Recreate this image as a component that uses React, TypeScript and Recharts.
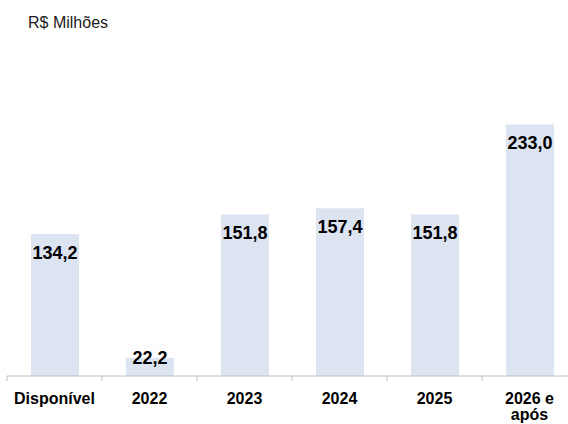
import React from "react";
import { BarChart, Bar, XAxis, YAxis, LabelList } from "recharts";

const categories = ["Disponível", "2022", "2023", "2024", "2025", "2026 e\napós"];
const values = [134.2, 22.2, 151.8, 157.4, 151.8, 233.0];
const title = "R$ Milhões";

const data = categories.map((c, i) => ({ name: c, value: values[i] }));

const FONT = "'Liberation Sans', Arial, sans-serif";

const CategoryTick = (props: any) => {
  const { x, y, payload } = props;
  const off = payload && typeof payload.offset === "number" ? payload.offset : 47.5;
  const lines = String(payload.value).split("\n");
  return (
    <g>
      <line x1={x - off} x2={x - off} y1={y - 8} y2={y - 3} stroke="#bfbfbf" strokeWidth={1} />
      <text
        x={x}
        y={y + 20}
        textAnchor="middle"
        fontFamily={FONT}
        fontWeight="bold"
        fontSize={16}
        fill="#000"
      >
        {lines.map((l, i) => (
          <tspan key={i} x={x} dy={i === 0 ? 0 : 16}>
            {l}
          </tspan>
        ))}
      </text>
    </g>
  );
};

const ValueLabel = (props: any) => {
  const { x, y, width, height, value } = props;
  const ty = height < 30 ? y + 6 : y + 25;
  return (
    <text
      x={x + width / 2}
      y={ty}
      textAnchor="middle"
      fontFamily={FONT}
      fontWeight="bold"
      fontSize={18}
      fill="#000"
    >
      {Number(value).toFixed(1).replace(".", ",")}
    </text>
  );
};

export default function App() {
  return (
    <div
      style={{
        position: "absolute",
        left: 0,
        top: 0,
        width: 568,
        height: 424,
        overflow: "hidden",
        background: "#fff",
      }}
    >
      <div
        style={{
          position: "absolute",
          left: 28,
          top: 14.5,
          fontFamily: FONT,
          fontSize: 16,
          lineHeight: "16px",
          color: "#1a1a1a",
          whiteSpace: "nowrap",
        }}
      >
        {title}
      </div>
      <div style={{ position: "absolute", left: 0, top: 0 }}>
        <BarChart
          width={590}
          height={424}
          data={data}
          margin={{ top: 100, left: 7, right: 13, bottom: 0 }}
          barCategoryGap={0}
        >
          <XAxis
            dataKey="name"
            interval={0}
            height={48}
            tickLine={false}
            axisLine={{ stroke: "#bfbfbf", strokeWidth: 1 }}
            tick={<CategoryTick />}
          />
          <YAxis hide width={0} type="number" domain={[6, 255]} allowDataOverflow />
          <Bar dataKey="value" fill="#dce3f1" barSize={48} isAnimationActive={false}>
            <LabelList dataKey="value" content={<ValueLabel />} />
          </Bar>
        </BarChart>
      </div>
    </div>
  );
}
